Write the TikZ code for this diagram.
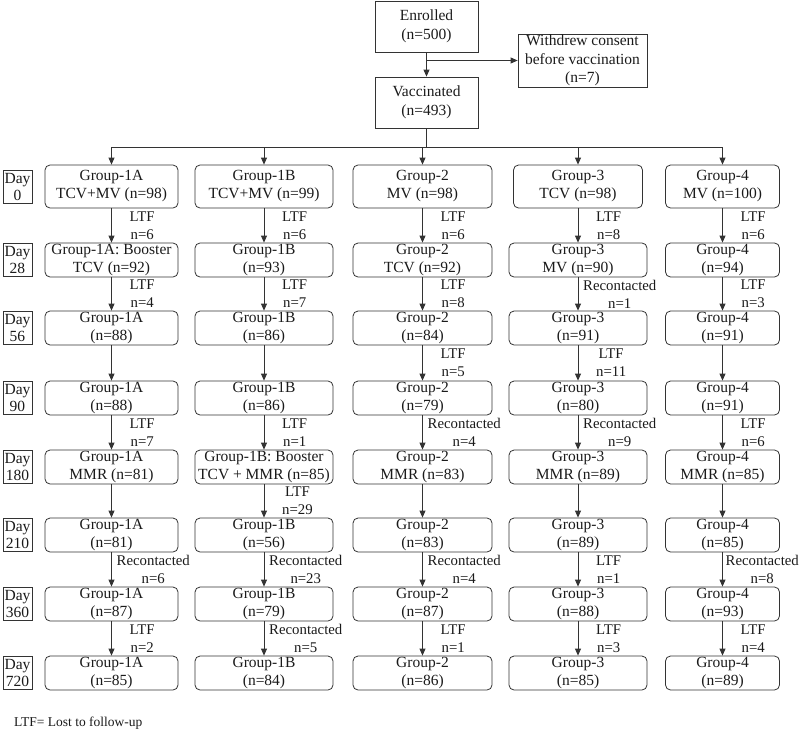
\documentclass[tikz,border=0pt]{standalone}
\usepackage{fontspec}
\setmainfont{Liberation Serif}
\usetikzlibrary{arrows.meta,calc}
\definecolor{ln}{HTML}{333333}
\definecolor{tx}{HTML}{1A1A1A}
\newcommand\ltf[3]{\node[lbl] (l#1) at ($(#1.south)!0.5!(#2.north)+(18,0)$) {LTF\\n=#3};}
\newcommand\rec[4][5]{\node[lbl] (l#2) at ($(#2.south)!0.5!(#3.north)+(#1,0)$) {Recontacted\\n=#4};}
\begin{document}
\begin{tikzpicture}[x=1pt,y=-1pt, text=tx,
  font=\fontsize{15.5}{18}\selectfont,
  box/.style={draw=ln, line width=0.8pt, rounded corners=5pt, align=center, inner sep=0pt, minimum height=34pt},
  sbox/.style={draw=ln, line width=0.8pt, align=center, inner sep=0pt, font=\fontsize{15.5}{19.5}\selectfont},
  dbox/.style={draw=ln, line width=0.8pt, align=center, inner sep=0pt, minimum width=29pt, minimum height=33pt, font=\fontsize{15.5}{17}\selectfont},
  arr/.style={draw=ln, line width=0.8pt, -{Triangle[length=7pt,width=6pt]}},
  lbl/.style={align=center, inner sep=0pt, anchor=west, font=\fontsize{14.8}{18}\selectfont},
  colA/.style={box, minimum width=133pt},
  colB/.style={box, minimum width=138pt},
  colC/.style={box, minimum width=139pt},
  colD/.style={box, minimum width=138pt},
  colE/.style={box, minimum width=114pt}]
\useasboundingbox (0,0) rectangle (800,731);

% top
\node[sbox, minimum width=103pt, minimum height=51pt] (enr) at (426.5,26.5) {Enrolled\\(n=500)};
\node[sbox, minimum width=103pt, minimum height=51pt] (vac) at (426.5,102.5) {Vaccinated\\(n=493)};
\node[sbox, minimum width=129pt, minimum height=53pt, font=\fontsize{15.5}{18.5}\selectfont] (wd) at (582.5,60.5) {Withdrew consent\\before vaccination\\(n=7)};
\coordinate (br) at (enr.south |- wd.west);
\draw[arr] (enr) -- (vac);
\draw[arr] (br) -- (wd);

% day labels
\node[dbox] (d0) at (17.5,186.5) {Day\\0};
\node[dbox] (d1) at (17.5,260) {Day\\28};
\node[dbox] (d2) at (17.5,328) {Day\\56};
\node[dbox] (d3) at (17.5,398) {Day\\90};
\node[dbox] (d4) at (17.5,467) {Day\\180};
\node[dbox] (d5) at (17.5,535) {Day\\210};
\node[dbox] (d6) at (17.5,604) {Day\\360};
\node[dbox] (d7) at (17.5,673) {Day\\720};

% row 0
\node[colA, minimum height=43pt] (a0) at (111.5,186.5) {Group-1A\\TCV+MV (n=98)};
\node[colB, minimum height=43pt] (b0) at (264,186.5) {Group-1B\\TCV+MV (n=99)};
\node[colC, minimum height=43pt] (c0) at (422.5,186.5) {Group-2\\MV (n=98)};
\node[colD, minimum height=43pt, minimum width=129pt] (e0x) at (578,186.5) {Group-3\\TCV (n=98)};
\node[colE, minimum height=43pt] (f0) at (722.5,186.5) {Group-4\\MV (n=100)};
% row 1
\node[colA] (a1) at (111.5,260) {Group-1A: Booster\\TCV (n=92)};
\node[colB] (b1) at (264,260) {Group-1B\\(n=93)};
\node[colC] (c1) at (422.5,260) {Group-2\\TCV (n=92)};
\node[colD] (e1) at (578,260) {Group-3\\MV (n=90)};
\node[colE] (f1) at (722.5,260) {Group-4\\(n=94)};
% row 2
\node[colA] (a2) at (111.5,328) {Group-1A\\(n=88)};
\node[colB] (b2) at (264,328) {Group-1B\\(n=86)};
\node[colC] (c2) at (422.5,328) {Group-2\\(n=84)};
\node[colD] (e2) at (578,328) {Group-3\\(n=91)};
\node[colE] (f2) at (722.5,328) {Group-4\\(n=91)};
% row 3
\node[colA] (a3) at (111.5,398) {Group-1A\\(n=88)};
\node[colB] (b3) at (264,398) {Group-1B\\(n=86)};
\node[colC] (c3) at (422.5,398) {Group-2\\(n=79)};
\node[colD] (e3) at (578,398) {Group-3\\(n=80)};
\node[colE] (f3) at (722.5,398) {Group-4\\(n=91)};
% row 4
\node[colA] (a4) at (111.5,467) {Group-1A\\MMR (n=81)};
\node[colB] (b4) at (264,467) {Group-1B: Booster\\TCV + MMR (n=85)};
\node[colC] (c4) at (422.5,467) {Group-2\\MMR (n=83)};
\node[colD] (e4) at (578,467) {Group-3\\MMR (n=89)};
\node[colE] (f4) at (722.5,467) {Group-4\\MMR (n=85)};
% row 5
\node[colA] (a5) at (111.5,535) {Group-1A\\(n=81)};
\node[colB] (b5) at (264,535) {Group-1B\\(n=56)};
\node[colC] (c5) at (422.5,535) {Group-2\\(n=83)};
\node[colD] (e5) at (578,535) {Group-3\\(n=89)};
\node[colE] (f5) at (722.5,535) {Group-4\\(n=85)};
% row 6
\node[colA] (a6) at (111.5,604) {Group-1A\\(n=87)};
\node[colB] (b6) at (264,604) {Group-1B\\(n=79)};
\node[colC] (c6) at (422.5,604) {Group-2\\(n=87)};
\node[colD] (e6) at (578,604) {Group-3\\(n=88)};
\node[colE] (f6) at (722.5,604) {Group-4\\(n=93)};
% row 7
\node[colA] (a7) at (111.5,673) {Group-1A\\(n=85)};
\node[colB] (b7) at (264,673) {Group-1B\\(n=84)};
\node[colC] (c7) at (422.5,673) {Group-2\\(n=86)};
\node[colD] (e7) at (578,673) {Group-3\\(n=85)};
\node[colE] (f7) at (722.5,673) {Group-4\\(n=89)};

% bus
\coordinate (bus) at (vac.south |- 0,147);
\coordinate (busa) at (a0.north |- bus);
\coordinate (busb) at (b0.north |- bus);
\coordinate (busc) at (c0.north |- bus);
\coordinate (buse) at (e0x.north |- bus);
\coordinate (busf) at (f0.north |- bus);
\draw[draw=ln, line width=0.8pt] (vac) -- (bus);
\draw[draw=ln, line width=0.8pt] (busa) -- (busf);
\draw[arr] (busa) -- (a0);
\draw[arr] (busb) -- (b0);
\draw[arr] (busc) -- (c0);
\draw[arr] (buse) -- (e0x);
\draw[arr] (busf) -- (f0);

% vertical arrows
\foreach \c in {a,b,c,f}{
  \draw[arr] (\c0) -- (\c1);
  \draw[arr] (\c1) -- (\c2);
  \draw[arr] (\c2) -- (\c3);
  \draw[arr] (\c3) -- (\c4);
  \draw[arr] (\c4) -- (\c5);
  \draw[arr] (\c5) -- (\c6);
  \draw[arr] (\c6) -- (\c7);
}
\draw[arr] (e0x) -- (e1);
\draw[arr] (e1) -- (e2);
\draw[arr] (e2) -- (e3);
\draw[arr] (e3) -- (e4);
\draw[arr] (e4) -- (e5);
\draw[arr] (e5) -- (e6);
\draw[arr] (e6) -- (e7);

% labels column A
\ltf{a0}{a1}{6}
\ltf{a1}{a2}{4}
\ltf{a3}{a4}{7}
\rec{a5}{a6}{6}
\ltf{a6}{a7}{2}
% column B
\ltf{b0}{b1}{6}
\ltf{b1}{b2}{7}
\ltf{b3}{b4}{1}
\ltf{b4}{b5}{29}
\rec{b5}{b6}{23}
\rec{b6}{b7}{5}
% column C
\ltf{c0}{c1}{6}
\ltf{c1}{c2}{8}
\ltf{c2}{c3}{5}
\rec{c3}{c4}{4}
\rec{c5}{c6}{4}
\ltf{c6}{c7}{1}
% column D
\ltf{e0x}{e1}{8}
\rec{e1}{e2}{1}
\ltf{e2}{e3}{11}
\rec{e3}{e4}{9}
\ltf{e5}{e6}{1}
\ltf{e6}{e7}{3}
% column E
\ltf{f0}{f1}{6}
\ltf{f1}{f2}{3}
\ltf{f3}{f4}{6}
\rec[3]{f5}{f6}{8}
\ltf{f6}{f7}{4}

\node[anchor=west, inner sep=0pt, font=\fontsize{13.5}{16}\selectfont] (foot) at (14,723) {LTF= Lost to follow-up};
\end{tikzpicture}
\end{document}
